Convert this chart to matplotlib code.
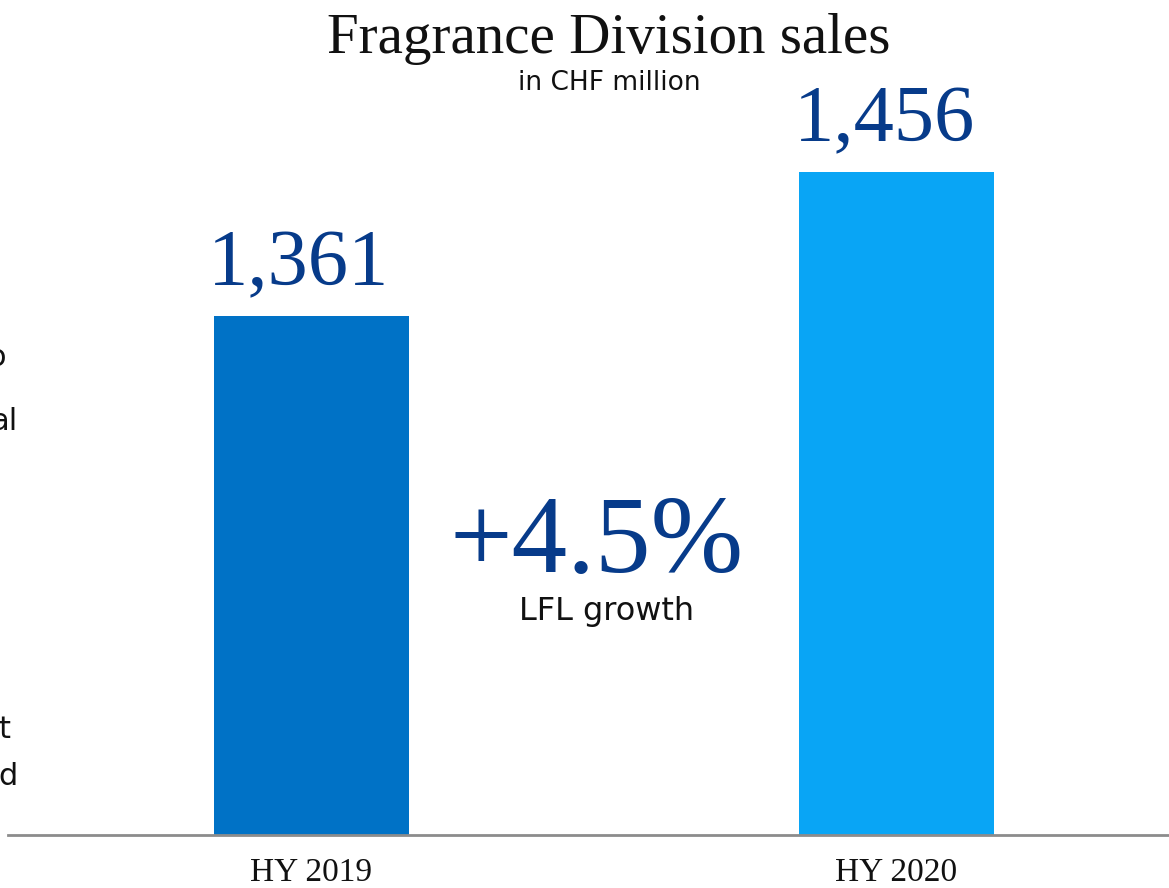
import matplotlib
matplotlib.use("Agg")
import matplotlib.pyplot as plt

categories = ["HY 2019", "HY 2020"]
sales = [1361, 1456]
sales_labels = ["1,361", "1,456"]
bar_colors = ["#0072C6", "#09A5F5"]
title = "Fragrance Division sales"
subtitle = "in CHF million"
growth_text = "+4.5%"
growth_label = "LFL growth"

W, H = 1169, 888
fig = plt.figure(figsize=(W / 100, H / 100), dpi=100)

def fx(px):
    return px / W

def fy(py):
    return 1 - py / H

# axes: left at x=8px, bottom at y=835px, top at figure top
ax = fig.add_axes([fx(8), fy(835), 1 - fx(8), fy(0) - fy(835)])
x = [0, 1]
ax.bar(x, sales, width=0.333, color=bar_colors, zorder=2)
ax.set_xlim(-0.5188, 1.4658)
ax.set_ylim(1018.6, 1569.4)
for s in ["top", "right", "left"]:
    ax.spines[s].set_visible(False)
ax.spines["bottom"].set_color("#8C8C8C")
ax.spines["bottom"].set_linewidth(2)
ax.set_yticks([])
ax.set_xticks([])

serif = ["Liberation Serif", "DejaVu Serif"]
sans = ["DejaVu Sans"]
dark_blue = "#073B8A"

for xi, v, lab in zip(x, sales, sales_labels):
    ax.annotate(lab, (xi, v), xytext=(-9, 22), textcoords="offset points",
                ha="center", va="baseline", fontsize=58, family=serif,
                color=dark_blue)

# category labels below the axis
cat_px = [311.5, 896.5]
for cx, cat in zip(cat_px, categories):
    fig.text(fx(cx), fy(881), cat, ha="center", va="baseline",
             fontsize=24, family=serif, color="#111111")

fig.text(fx(609), fy(53), title, ha="center", va="baseline",
         fontsize=41, family=serif, color="#111111")
fig.text(fx(609), fy(90), subtitle, ha="center", va="baseline",
         fontsize=19, family=sans, color="#111111")

fig.text(fx(597), fy(572), growth_text, ha="center", va="baseline",
         fontsize=80, family=serif, color=dark_blue)
fig.text(fx(607), fy(620), growth_label, ha="center", va="baseline",
         fontsize=23, family=sans, color="#111111")

# clipped fragments of neighbouring slide text at the left edge
for txt, xr, yb in [("o", 6, 366), ("al", 17, 430), ("t", 10, 738), ("d", 18, 785)]:
    fig.text(fx(xr), fy(yb), txt, ha="right", va="baseline",
             fontsize=22, family=sans, color="#111111")

fig.savefig("out.png", dpi=100)
